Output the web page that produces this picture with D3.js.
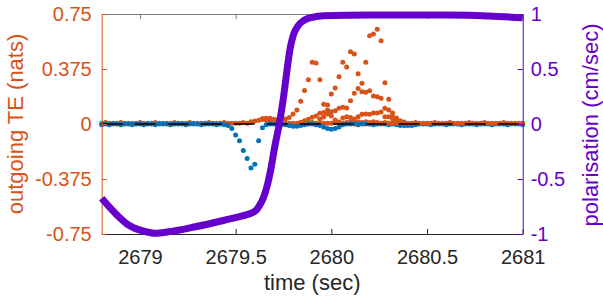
<!DOCTYPE html>
<html>
<head>
<meta charset="utf-8">
<script src="https://cdn.jsdelivr.net/npm/d3@7"></script>
<style>
  body { margin: 0; background: #fff; }
  svg { display: block; font-family: "Liberation Sans", Arial, sans-serif; }
</style>
</head>
<body>
<div id="chart"></div>
<script>
// tick labels
const xTicks = [2679, 2679.5, 2680, 2680.5, 2681];
const leftTicks = [-0.75, -0.375, 0, 0.375, 0.75];
const rightTicks = [-1, -0.5, 0, 0.5, 1];

// polarisation (cm/sec), right axis
const polTime = [2678.80, 2678.87, 2678.94, 2679.01, 2679.08, 2679.15, 2679.29, 2679.46, 2679.53,
  2679.60, 2679.625, 2679.645, 2679.665, 2679.685, 2679.705, 2679.728, 2679.749, 2679.767,
  2679.784, 2679.80, 2679.825, 2679.86, 2679.90, 2679.96, 2680.2, 2680.6, 2680.85, 2681.0];
const polValue = [-0.675, -0.81, -0.918, -0.97, -0.994, -0.98, -0.934, -0.867, -0.838,
  -0.795, -0.74, -0.67, -0.56, -0.40, -0.2, 0.0, 0.23, 0.47,
  0.68, 0.8, 0.89, 0.945, 0.97, 0.985, 0.99, 0.99, 0.98, 0.965];

// TE samples every 0.02 s
const dt = 0.02;
const baseStart = 2678.80;
const blueBase = [
  -0.005, 0, -0.005, 0, 0, -0.005, 0, 0, -0.005, 0,
  0, -0.005, 0, 0, -0.005, 0, 0, 0, -0.005, 0,
  0, 0, -0.005, 0, 0, 0, -0.005, 0, 0, 0,
  -0.005, 0, -0.005, -0.01,
  -0.03, -0.075, -0.115, -0.18, -0.235, -0.30, -0.275, -0.115, -0.025,
  -0.005, 0, 0, 0, -0.005, -0.005, -0.01, -0.015, -0.015, -0.01,
  -0.005, 0, 0, -0.005, -0.01, -0.02, -0.03, -0.035, -0.03, -0.02,
  -0.005, 0, 0, 0, -0.005, 0, 0, 0, -0.005, 0,
  0, 0, -0.005, 0, -0.005, -0.01, -0.01, -0.01, -0.01, -0.005,
  0, 0, 0, -0.005, 0, 0, 0, -0.005, 0, 0,
  0, -0.005, 0, 0, 0, -0.005, 0, 0, 0, -0.005,
  0, 0, 0, -0.005, 0, 0, 0, -0.005
];
const orangeBase = [
  0.005, 0.01, 0.005, 0.005, 0.005, 0.01, 0.005, 0.005, 0.005, 0.005,
  0.01, 0.005, 0.005, 0.005, 0.01, 0.005, 0.005, 0.005, 0.005, 0.01,
  0.005, 0.005, 0.005, 0.01, 0.005, 0.005, 0.005, 0.005, 0.01, 0.005,
  0.005, 0.005, 0.01, 0.005, 0.005, 0.005, 0.005, 0.01, 0.005, 0.015,
  0.02, 0.025, 0.03, 0.025, 0.02, 0.015, 0.01, 0.005, 0.005, 0.005,
  0.005, 0.005, 0.005, 0.005, 0.005, 0.01, 0.005, 0.005, 0.005, 0.005,
  0.005, 0.01, 0.005, 0.005, 0.01, 0.015, 0.02, 0.015, 0.01, 0.015,
  0.01, 0.015, 0.01, 0.005, 0.01, 0.005, 0.005, 0.005, 0.01, 0.005,
  0.005, 0.005, 0.01, 0.005, 0.005, 0.005, 0.005, 0.01, 0.005, 0.005,
  0.005, 0.01, 0.005, 0.005, 0.005, 0.005, 0.01, 0.005, 0.005, 0.005,
  0.01, 0.005, 0.005, 0.005, 0.005, 0.01, 0.005, 0.005, 0.005, 0.005, 0.005
];

// outgoing TE bursts (start time, values)
const burstAStart = 2679.64;
const burstA = [0.037, 0.039, 0.039, 0.032, 0.031, 0.032, 0.034, 0.044, 0.068, 0.095,
  0.155, 0.228, 0.302, 0.421, 0.416, 0.302, 0.134, 0.13, 0.055, 0.027, 0.014];
const burstBStart = 2679.84;
const burstB = [0.012, 0.022, 0.032, 0.046, 0.055, 0.073, 0.078, 0.095, 0.205, 0.245,
  0.322, 0.421, 0.389, 0.493, 0.477, 0.343, 0.22, 0.216, 0.227, 0.191,
  0.186, 0.175, 0.107, 0.095, 0.048, 0.027, 0.014];
const burstCStart = 2679.94;
const burstC = [0.034, 0.048, 0.068, 0.084, 0.091, 0.107, 0.114, 0.109, 0.159, 0.209,
  0.242, 0.277, 0.421, 0.602, 0.614, 0.646, 0.568, 0.282, 0.168, 0.075, 0.041, 0.02];
const burstEStart = 2680.06;
const burstE = [0.041, 0.05, 0.044, 0.034, 0.05, 0.066, 0.068, 0.066, 0.075, 0.075,
  0.082, 0.05, 0.05, 0.034, 0.027, 0.02, 0.014];

const W = 603, H = 298;
const orange = "#D95319", blue = "#0072BD", purple = "#6600CC", dark = "#262626";

const x = d3.scaleLinear().domain([2678.8, 2681]).range([101.7, 522.7]);
const yL = d3.scaleLinear().domain([-0.75, 0.75]).range([234, 14]);
const yR = d3.scaleLinear().domain([-1, 1]).range([234, 14]);

const svg = d3.select("#chart").append("svg").attr("width", W).attr("height", H);

function toPoints(start, vals) {
  return vals.map((v, i) => ({ t: start + i * dt, v: v }));
}

function drawDots(pts, color) {
  svg.append("g").selectAll("circle").data(pts).enter().append("circle")
    .attr("cx", d => x(d.t))
    .attr("cy", d => yL(d.v))
    .attr("r", 2.5)
    .attr("fill", color);
}

const orangePts = toPoints(baseStart, orangeBase);
drawDots(orangePts.filter(d => d.t < 2680.2), orange);
drawDots(toPoints(baseStart, blueBase), blue);
drawDots(toPoints(burstAStart, burstA), orange);
drawDots(toPoints(burstBStart, burstB), orange);
drawDots(toPoints(burstCStart, burstC), orange);
drawDots(toPoints(burstEStart, burstE), orange);
drawDots(orangePts.filter(d => d.t >= 2680.2), orange);

// dashed zero line
svg.append("line")
  .attr("x1", x(2678.8)).attr("x2", x(2681))
  .attr("y1", yL(0)).attr("y2", yL(0))
  .attr("stroke", "#000").attr("stroke-width", 1.5)
  .attr("stroke-dasharray", "21,12");

// axes
const fmt = d => String(d);

svg.append("g")
  .attr("transform", "translate(0,14)")
  .call(d3.axisTop(x).tickValues(xTicks).tickSize(-5).tickSizeOuter(0).tickFormat(""))
  .call(g => g.selectAll("path,line").attr("stroke", "#7f7f7f"));

const bottom = svg.append("g")
  .attr("transform", "translate(0,234)")
  .call(d3.axisBottom(x).tickValues(xTicks).tickSize(-5).tickSizeOuter(0).tickPadding(16).tickFormat(fmt));
bottom.selectAll("path,line").attr("stroke", dark);
bottom.selectAll("text").attr("fill", dark).style("font-size", "20px")
  .style("font-family", "'Liberation Sans', Arial, sans-serif");

const left = svg.append("g")
  .attr("transform", "translate(101.7,0)")
  .call(d3.axisLeft(yL).tickValues(leftTicks).tickSize(-5).tickSizeOuter(0).tickPadding(10).tickFormat(fmt));
left.selectAll("path,line").attr("stroke", orange);
left.selectAll("text").attr("fill", orange).style("font-size", "20px")
  .style("font-family", "'Liberation Sans', Arial, sans-serif");

const right = svg.append("g")
  .attr("transform", "translate(522.7,0)")
  .call(d3.axisRight(yR).tickValues(rightTicks).tickSize(-5).tickSizeOuter(0).tickPadding(8).tickFormat(fmt));
right.selectAll("path,line").attr("stroke", purple);
right.selectAll("text").attr("fill", purple).style("font-size", "20px")
  .style("font-family", "'Liberation Sans', Arial, sans-serif");

// polarisation line
const line = d3.line()
  .x((d, i) => x(polTime[i]))
  .y(d => yR(d))
  .curve(d3.curveMonotoneX);

svg.append("path")
  .datum(polValue)
  .attr("d", line)
  .attr("fill", "none")
  .attr("stroke", purple)
  .attr("stroke-width", 7)
  .attr("stroke-linejoin", "round");

// axis labels
svg.append("text")
  .attr("transform", "translate(23,124) rotate(-90)")
  .attr("text-anchor", "middle")
  .attr("fill", orange)
  .style("font-size", "22px")
  .text("outgoing TE (nats)");

svg.append("text")
  .attr("transform", "translate(598,125) rotate(-90)")
  .attr("text-anchor", "middle")
  .attr("fill", purple)
  .style("font-size", "22px")
  .text("polarisation (cm/sec)");

svg.append("text")
  .attr("x", 312.2).attr("y", 290)
  .attr("text-anchor", "middle")
  .attr("fill", dark)
  .style("font-size", "22px")
  .text("time (sec)");
</script>
</body>
</html>
